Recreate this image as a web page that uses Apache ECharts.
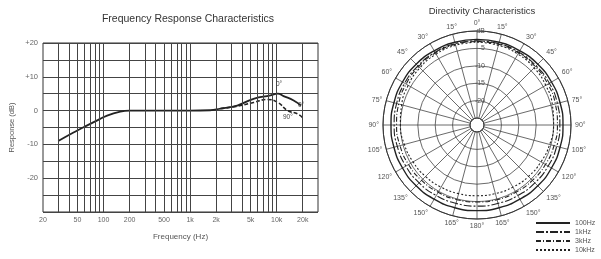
<!DOCTYPE html>
<html>
<head>
<meta charset="utf-8">
<script src="https://cdn.jsdelivr.net/npm/echarts@6/dist/echarts.min.js"></script>
<style>
html,body{margin:0;padding:0;background:#fff;}
#main{width:601px;height:259px;}
</style>
</head>
<body>
<div id="main"></div>
<script>
/* 频响曲线 (0° / 90°) */
var freq0 = [30, 45, 58, 76, 110, 156, 200, 500, 1000, 1700, 2250, 3500, 5400, 8500, 10300, 12000, 15700, 19000];
var resp0 = [-9, -6.5, -5, -3.5, -1.5, -0.3, 0, 0, 0, 0.1, 0.6, 1.5, 3.5, 4.5, 5, 4.3, 3, 1.5];
var freq90 = [2250, 3500, 5400, 7900, 10300, 13400, 17500, 20500];
var resp90 = [0.6, 1.3, 2.4, 3.3, 2.4, 0, -1, -2.4];
var tickFreq = [20, 50, 100, 200, 500, 1000, 2000, 5000, 10000, 20000];
var tickText = ['20', '50', '100', '200', '500', '1k', '2k', '5k', '10k', '20k'];
var gridFreq = [30, 40, 50, 60, 70, 80, 90, 100, 200, 300, 400, 500, 600, 700, 800, 900, 1000,
    2000, 3000, 4000, 5000, 6000, 7000, 8000, 9000, 10000, 20000];

/* 指向性 */
var angles = [0, 15, 30, 45, 60, 75, 90, 105, 120, 135, 150, 165, 180, 195, 210, 225, 240, 255, 270, 285, 300, 315, 330, 345, 360];
var db100 = [-2.4, -2.4, -2.4, -2.3, -2.3, -2.3, -2.3, -2.3, -2.3, -2.3, -2.4, -2.4, -2.4, -2.4, -2.4, -2.3, -2.3, -2.3, -2.3, -2.3, -2.3, -2.3, -2.4, -2.4, -2.4];
var db1k = [-2.8, -2.8, -2.9, -3.0, -3.0, -3.1, -3.2, -3.3, -3.4, -3.5, -3.6, -3.7, -3.7, -3.7, -3.6, -3.5, -3.4, -3.3, -3.2, -3.1, -3.0, -3.0, -2.9, -2.8, -2.8];
var db3k = [-3.0, -3.0, -3.1, -3.3, -3.5, -3.7, -3.9, -4.1, -4.3, -4.5, -4.7, -4.8, -4.9, -4.8, -4.7, -4.5, -4.3, -4.1, -3.9, -3.7, -3.5, -3.3, -3.1, -3.0, -3.0];
var db10k = [-3.2, -3.3, -3.5, -3.8, -4.2, -4.6, -5.0, -5.4, -5.8, -6.1, -6.4, -6.6, -6.7, -6.6, -6.4, -6.1, -5.8, -5.4, -5.0, -4.6, -4.2, -3.8, -3.5, -3.3, -3.2];
var polarNames = ['100Hz', '1kHz', '3kHz', '10kHz'];

var FONT = 'Liberation Sans';

function toXY(fs, vs) {
    var out = [];
    for (var i = 0; i < fs.length; i++) out.push([Math.log10(fs[i]), vs[i]]);
    return out;
}
function toPolar(vs) {
    var out = [];
    for (var i = 0; i < angles.length; i++) out.push([vs[i], angles[i]]);
    return out;
}

var myChart = echarts.init(document.getElementById('main'));
var option = {
    animation: false,
    textStyle: {fontFamily: FONT},
    title: [
        {text: 'Frequency Response Characteristics', left: 183, top: 9, textAlign: 'center',
            textStyle: {fontSize: 10.5, fontWeight: 'normal', color: '#333', fontFamily: FONT}},
        {text: 'Directivity Characteristics', left: 477, top: 1, textAlign: 'center',
            textStyle: {fontSize: 9.5, fontWeight: 'normal', color: '#333', fontFamily: FONT}}
    ],
    grid: {left: 43, top: 43, width: 275, height: 169, show: true, borderColor: '#333', borderWidth: 1},
    xAxis: {
        type: 'value', min: Math.log10(20), max: Math.log10(30000),
        name: 'Frequency (Hz)', nameLocation: 'middle', nameGap: 21,
        nameTextStyle: {fontSize: 8, color: '#555'},
        axisLine: {show: false}, axisTick: {show: false}, splitLine: {show: false},
        axisLabel: {
            customValues: tickFreq.map(function (f) { return Math.log10(f); }),
            fontSize: 7, color: '#666', margin: 5,
            formatter: function (v) {
                for (var i = 0; i < tickFreq.length; i++) {
                    if (Math.abs(Math.log10(tickFreq[i]) - v) < 1e-6) return tickText[i];
                }
                return '';
            }
        }
    },
    yAxis: {
        type: 'value', min: -30, max: 20, interval: 5,
        name: 'Response (dB)', nameLocation: 'middle', nameGap: 27, nameRotate: 90,
        nameTextStyle: {fontSize: 7.5, color: '#555'},
        axisLine: {show: false}, axisTick: {show: false},
        splitLine: {show: true, lineStyle: {color: '#444', width: 1}},
        axisLabel: {
            fontSize: 7.5, color: '#666', margin: 5,
            formatter: function (v) {
                if (v % 10 !== 0 || v === -30) return '';
                return v > 0 ? '+' + v : '' + v;
            }
        }
    },
    polar: {center: [477, 125], radius: [7, 94]},
    angleAxis: {
        type: 'value', min: 0, max: 360, interval: 15, startAngle: 90, clockwise: true,
        axisLine: {lineStyle: {color: '#333', width: 1}},
        axisTick: {show: false},
        splitLine: {show: true, lineStyle: {color: '#444', width: 0.8}},
        axisLabel: {
            fontSize: 7, color: '#555', margin: 4,
            formatter: function (v) {
                if (v === 360) return '';
                return (v > 180 ? 360 - v : v) + '°';
            }
        }
    },
    radiusAxis: {
        type: 'value', min: -25, max: 0, interval: 5,
        axisLine: {show: false}, axisTick: {show: false},
        splitLine: {show: true, lineStyle: {color: '#444', width: 0.8}},
        axisLabel: {
            fontSize: 7, color: '#555', margin: -8,
            formatter: function (v) {
                if (v === -25) return '';
                if (v === 0) return 'dB';
                return '' + v;
            }
        }
    },
    legend: {
        data: polarNames, orient: 'vertical', left: 535, top: 219, padding: 0,
        itemWidth: 34, itemHeight: 6, itemGap: 1,
        itemStyle: {opacity: 0},
        textStyle: {fontSize: 7, color: '#555', lineHeight: 8}
    },
    series: [
        {
            name: '0deg', type: 'line', data: toXY(freq0, resp0), symbol: 'none', smooth: true,
            lineStyle: {color: '#222', width: 1.8},
            markLine: {
                silent: true, symbol: 'none', label: {show: false},
                lineStyle: {color: '#444', width: 1, type: 'solid'},
                data: gridFreq.map(function (f) { return {xAxis: Math.log10(f)}; })
            }
        },
        {
            name: '90deg', type: 'line', data: toXY(freq90, resp90), symbol: 'none', smooth: true,
            lineStyle: {color: '#222', width: 1.6, type: [4, 2]}
        },
        {name: polarNames[0], type: 'line', coordinateSystem: 'polar', data: toPolar(db100), symbol: 'none', smooth: true,
            itemStyle: {color: '#222'}, lineStyle: {color: '#222', width: 1.4, type: 'solid'}},
        {name: polarNames[1], type: 'line', coordinateSystem: 'polar', data: toPolar(db1k), symbol: 'none', smooth: true,
            itemStyle: {color: '#222'}, lineStyle: {color: '#222', width: 1.1, type: [8, 2, 2, 2]}},
        {name: polarNames[2], type: 'line', coordinateSystem: 'polar', data: toPolar(db3k), symbol: 'none', smooth: true,
            itemStyle: {color: '#222'}, lineStyle: {color: '#222', width: 1.1, type: [5, 2, 1, 2]}},
        {name: polarNames[3], type: 'line', coordinateSystem: 'polar', data: toPolar(db10k), symbol: 'none', smooth: true,
            itemStyle: {color: '#222'}, lineStyle: {color: '#222', width: 1.1, type: [2, 2]}}
    ],
    graphic: [
        {type: 'text', left: 276, top: 81, style: {text: '0°', fontSize: 6.5, fill: '#444', fontFamily: FONT}},
        {type: 'text', left: 298, top: 102, style: {text: '0°', fontSize: 6.5, fill: '#444', fontFamily: FONT}},
        {type: 'text', left: 283, top: 114, style: {text: '90°', fontSize: 6.5, fill: '#444', fontFamily: FONT}}
    ]
};
myChart.setOption(option);
</script>
</body>
</html>
